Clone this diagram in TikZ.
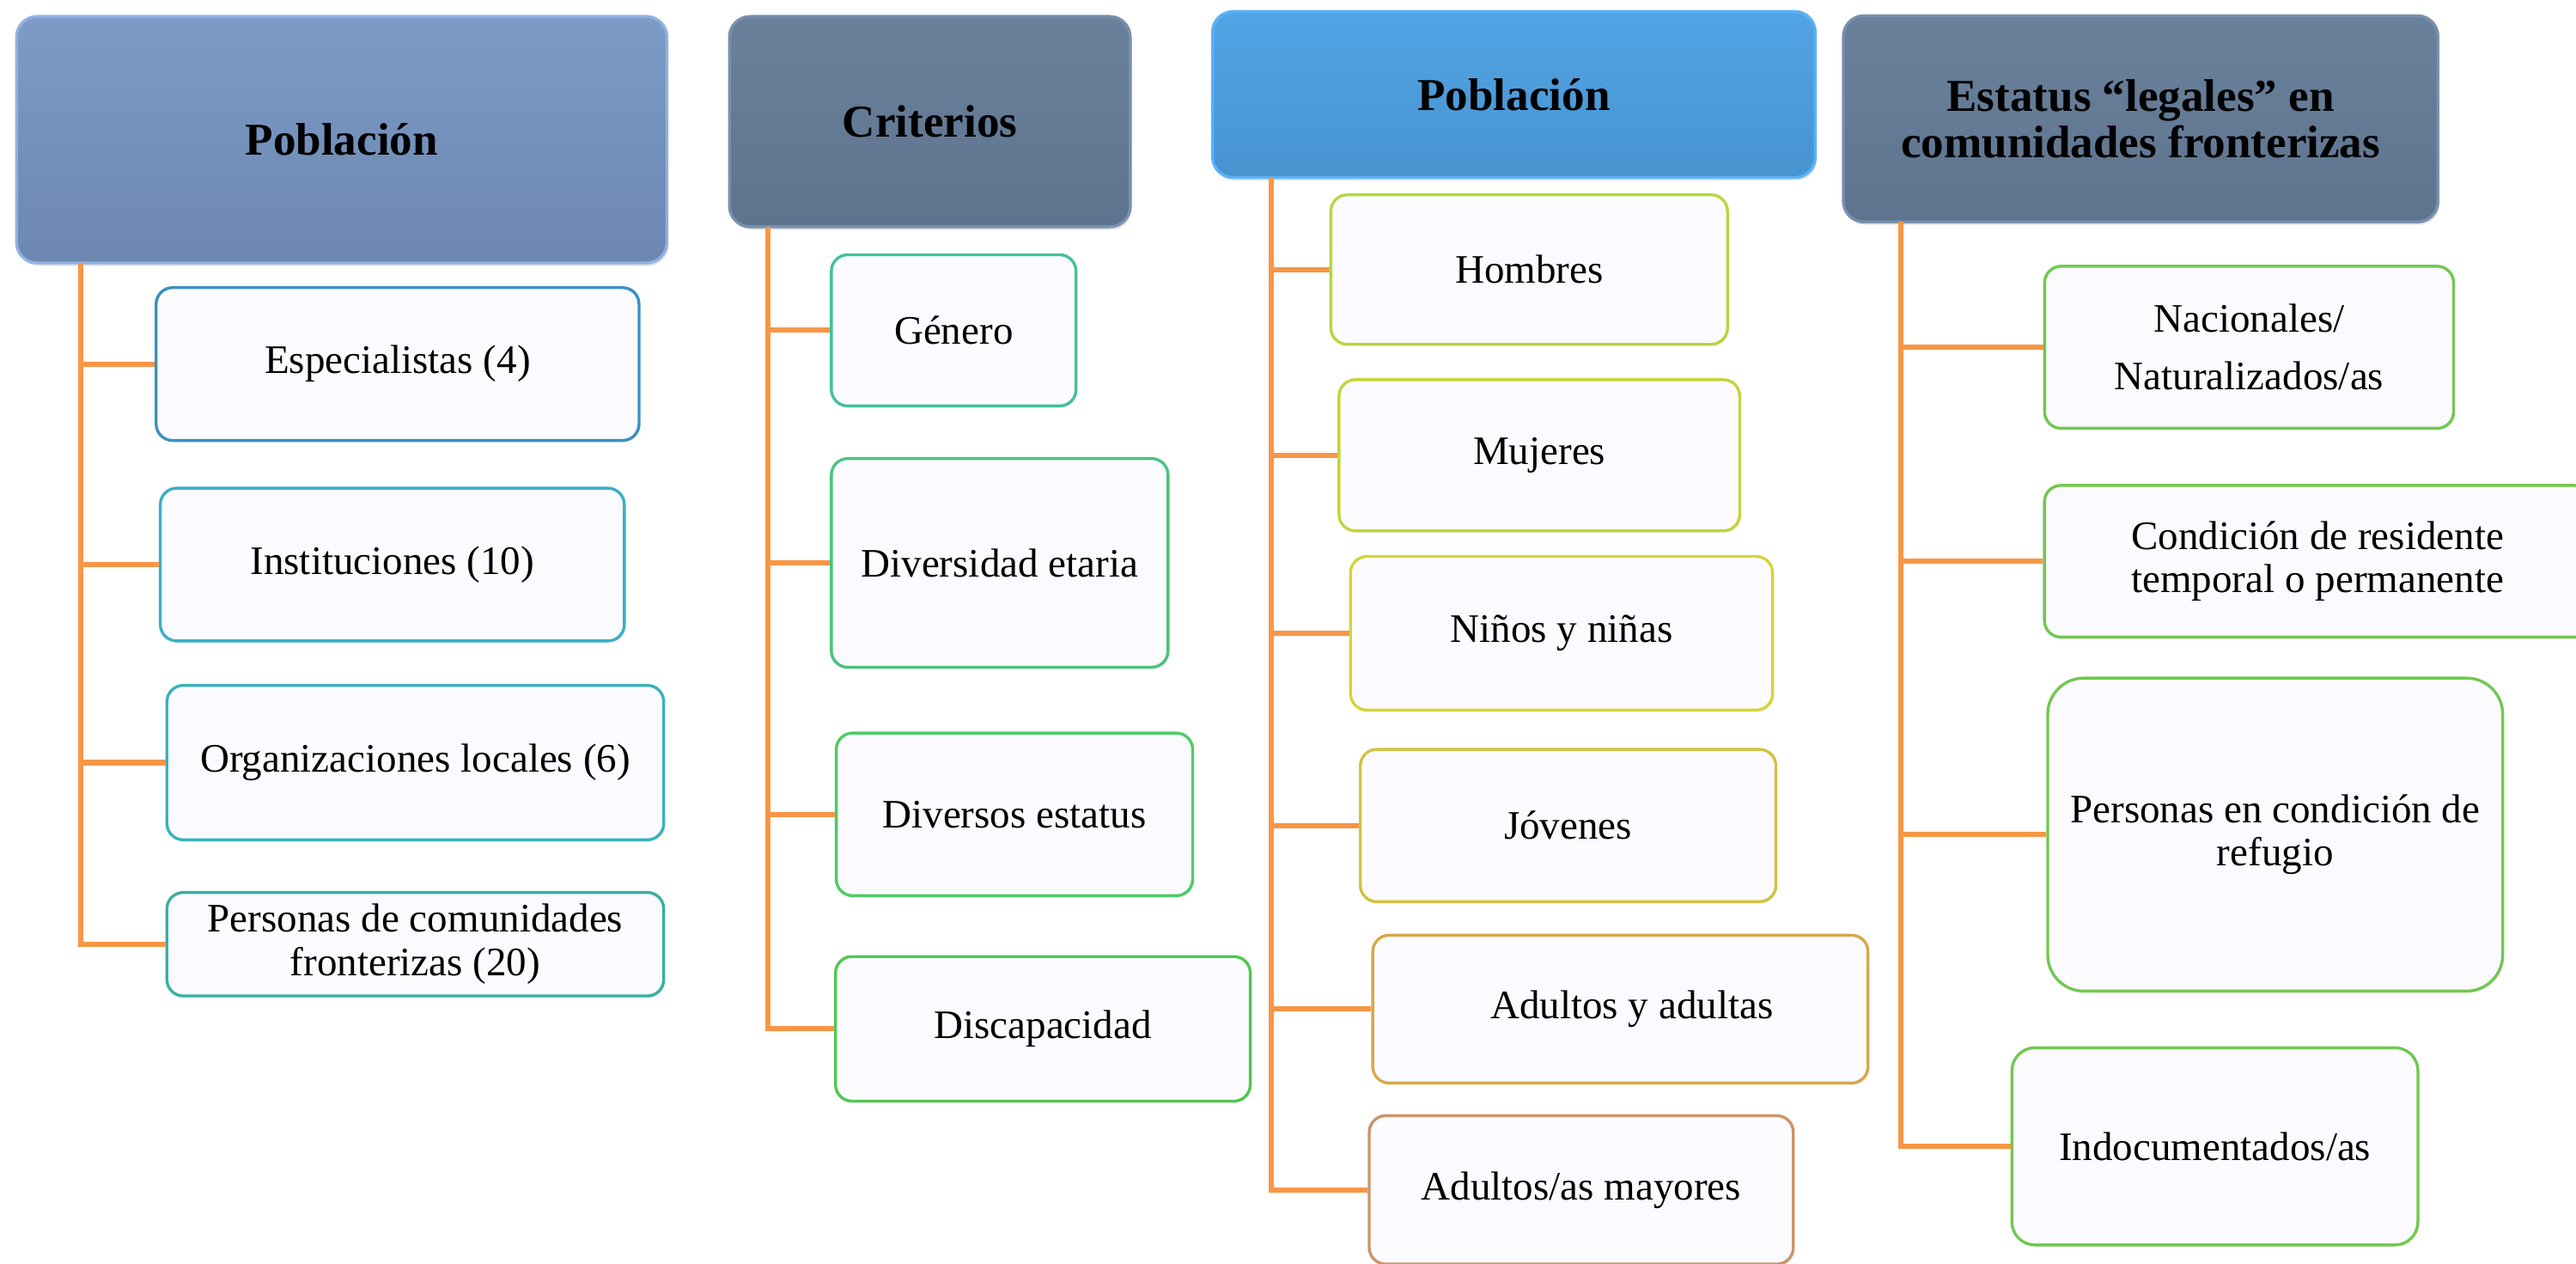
\documentclass[tikz,border=0pt]{standalone}
\usepackage{fontspec}
\setmainfont{Liberation Serif}
\usepackage{xcolor}
\usetikzlibrary{shadows}

\definecolor{connorange}{HTML}{F79646}
\definecolor{leaffill}{HTML}{FBFAFE}
\definecolor{hdrAtop}{HTML}{7C9BC6}
\definecolor{hdrAbot}{HTML}{6C88B0}
\definecolor{hdrAedge}{HTML}{8FB2E2}
\definecolor{hdrStop}{HTML}{6A819C}
\definecolor{hdrSbot}{HTML}{5E748E}
\definecolor{hdrSedge}{HTML}{7890AE}
\definecolor{hdrBtop}{HTML}{52A4E4}
\definecolor{hdrBbot}{HTML}{4893D0}
\definecolor{hdrBedge}{HTML}{5AB2F8}
\definecolor{espline}{HTML}{3A90C0}
\definecolor{instline}{HTML}{3BAEC8}
\definecolor{orgline}{HTML}{38B2BC}
\definecolor{persline}{HTML}{36B0A2}
\definecolor{genline}{HTML}{44C09A}
\definecolor{divline}{HTML}{48C47E}
\definecolor{estline}{HTML}{4CCC66}
\definecolor{disline}{HTML}{50C850}
\definecolor{homline}{HTML}{B4D83C}
\definecolor{mujline}{HTML}{C4D43C}
\definecolor{ninline}{HTML}{D4D43A}
\definecolor{jovline}{HTML}{D4C040}
\definecolor{adultline}{HTML}{D8A848}
\definecolor{mayline}{HTML}{CC9468}
\definecolor{legline}{HTML}{70C850}

\tikzset{
  header/.style={rectangle, rounded corners=0.25cm, line width=1pt, inner sep=2pt,
    align=center, font=\fontsize{15.8}{16}\selectfont\bfseries,
    drop shadow={opacity=0.25, shadow xshift=0.5pt, shadow yshift=-1pt}},
  leaf/.style={rectangle, rounded corners=0.2cm, draw, line width=1pt, fill=leaffill,
    inner sep=2pt, align=center, font=\fontsize{14}{15}\selectfont,
    drop shadow={opacity=0.15, shadow xshift=0.4pt, shadow yshift=-0.6pt}},
  conn/.style={connorange, line width=1.8pt}
}

\begin{document}
\begin{tikzpicture}[x=0.02cm, y=-0.02cm]

\clip (0,0) rectangle (1568,768.6);
\fill[white] (0,0) rectangle (1568,768.6);

% Poblacion (1)
\node[header, top color=hdrAtop, bottom color=hdrAbot, draw=hdrAedge, minimum width=7.92cm, minimum height=3cm] (pobA) at (208,85) {Población};

\node[leaf, draw=espline, minimum width=5.88cm, minimum height=1.86cm] (esp) at (242,221.5) {Especialistas (4)};
\node[leaf, draw=instline, minimum width=5.65cm, minimum height=1.86cm] (inst) at (238.8,343.5) {Instituciones (10)};
\node[leaf, draw=orgline, minimum width=6.05cm, minimum height=1.88cm] (org) at (252.8,464) {Organizaciones locales (6)};
\node[leaf, draw=persline, minimum width=6.05cm, minimum height=1.26cm] (pers) at (252.8,574.5) {Personas de comunidades\\fronterizas (20)};

\coordinate (tA) at (49,160);
\draw[conn] (tA) |- (pers.west);
\draw[conn] (tA |- esp.west) -- (esp.west);
\draw[conn] (tA |- inst.west) -- (inst.west);
\draw[conn] (tA |- org.west) -- (org.west);

% Criterios
\node[header, top color=hdrStop, bottom color=hdrSbot, draw=hdrSedge, minimum width=4.88cm, minimum height=2.56cm] (crit) at (566,74) {Criterios};

\node[leaf, draw=genline, minimum width=2.98cm, minimum height=1.84cm] (gen) at (580.5,201) {Género};
\node[leaf, draw=divline, minimum width=4.10cm, minimum height=2.54cm] (div) at (608.5,342.5) {Diversidad etaria};
\node[leaf, draw=estline, minimum width=4.34cm, minimum height=1.98cm] (est) at (617.5,495.5) {Diversos estatus};
\node[leaf, draw=disline, minimum width=5.05cm, minimum height=1.76cm] (dis) at (634.8,626) {Discapacidad};

\coordinate (tB) at (467.5,138);
\draw[conn] (tB) |- (dis.west);
\draw[conn] (tB |- gen.west) -- (gen.west);
\draw[conn] (tB |- div.west) -- (div.west);
\draw[conn] (tB |- est.west) -- (est.west);

% Poblacion (2)
\node[header, top color=hdrBtop, bottom color=hdrBbot, draw=hdrBedge, minimum width=7.34cm, minimum height=2.02cm] (pobB) at (921.5,57.5) {Población};

\node[leaf, draw=homline, minimum width=4.83cm, minimum height=1.82cm] (hom) at (930.8,164) {Hombres};
\node[leaf, draw=mujline, minimum width=4.88cm, minimum height=1.84cm] (muj) at (937,277) {Mujeres};
\node[leaf, draw=ninline, minimum width=5.14cm, minimum height=1.87cm] (nin) at (950.5,385.3) {Niños y niñas};
\node[leaf, draw=jovline, minimum width=5.06cm, minimum height=1.854cm] (jov) at (954.5,502.3) {Jóvenes};
\node[leaf, draw=adultline, minimum width=6.03cm, minimum height=1.80cm] (adu) at (986.3,614) {\hspace*{0.28cm}Adultos y adultas};
\node[leaf, draw=mayline, minimum width=5.164cm, minimum height=1.806cm] (may) at (962.5,724) {Adultos/as mayores};

\coordinate (tC) at (774,108);
\draw[conn] (tC) |- (may.west);
\draw[conn] (tC |- hom.west) -- (hom.west);
\draw[conn] (tC |- muj.west) -- (muj.west);
\draw[conn] (tC |- nin.west) -- (nin.west);
\draw[conn] (tC |- jov.west) -- (jov.west);
\draw[conn] (tC |- adu.west) -- (adu.west);

% Estatus legales
\node[header, top color=hdrStop, bottom color=hdrSbot, draw=hdrSedge, minimum width=7.24cm, minimum height=2.51cm] (leg) at (1303,72.3) {Estatus “legales” en\\comunidades fronterizas};

\node[leaf, draw=legline, minimum width=4.98cm, minimum height=1.972cm] (nac) at (1369,211.3) {Nacionales/\\[5pt]Naturalizados/as};
\node[leaf, draw=legline, minimum width=6.652cm, minimum height=1.846cm] (res) at (1410.7,341.5) {Condición de residente\\temporal o permanente};
\node[leaf, draw=legline, rounded corners=0.44cm, minimum width=5.54cm, minimum height=3.81cm] (ref) at (1384.9,507.8) {Personas en condición de\\refugio};
\node[leaf, draw=legline, rounded corners=0.28cm, minimum width=4.944cm, minimum height=2.40cm] (ind) at (1348.2,697.5) {Indocumentados/as};

\coordinate (tD) at (1157,135);
\draw[conn] (tD) |- (ind.west);
\draw[conn] (tD |- nac.west) -- (nac.west);
\draw[conn] (tD |- res.west) -- (res.west);
\draw[conn] (tD |- ref.west) -- (ref.west);

\end{tikzpicture}
\end{document}
